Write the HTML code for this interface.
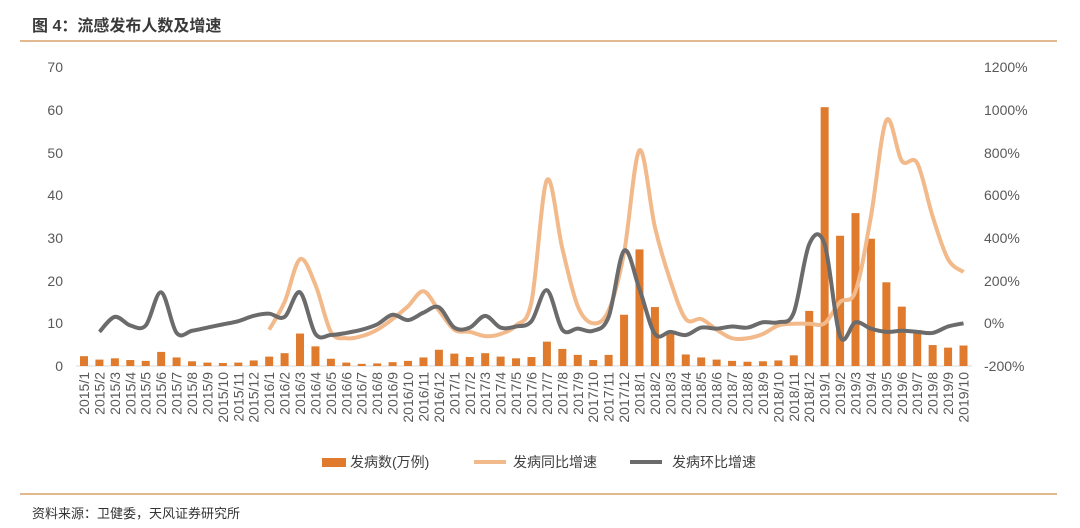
<!DOCTYPE html>
<html><head><meta charset="utf-8">
<style>
body{margin:0;background:#fff;}
svg{display:block;font-family:"Liberation Sans","Noto Sans CJK SC",sans-serif;}
</style></head><body>
<svg id="s" width="1080" height="528" viewBox="0 0 1080 528" xmlns="http://www.w3.org/2000/svg">
<text x="32" y="31" font-size="16" font-weight="bold" fill="#3a3a3a">图 4：流感发布人数及增速</text>
<line x1="20" y1="41" x2="1057" y2="41" stroke="#D9A06A" stroke-width="1.5"/>
<line x1="20" y1="494" x2="1057" y2="494" stroke="#D9A06A" stroke-width="1.5"/>
<text x="32" y="518" font-size="13" fill="#333">资料来源：卫健委，天风证券研究所</text>
<g font-size="14" fill="#595959" text-anchor="end">
<text x="63" y="371">0</text><text x="63" y="328">10</text><text x="63" y="286">20</text><text x="63" y="243">30</text><text x="63" y="200">40</text><text x="63" y="158">50</text><text x="63" y="115">60</text><text x="63" y="72">70</text>
</g>
<g font-size="14" fill="#595959" text-anchor="start">
<text x="984" y="371">-200%</text><text x="984" y="328">0%</text><text x="984" y="286">200%</text><text x="984" y="243">400%</text><text x="984" y="200">600%</text><text x="984" y="158">800%</text><text x="984" y="115">1000%</text><text x="984" y="72">1200%</text>
</g>
<line x1="76" y1="366" x2="972" y2="366" stroke="#d9d9d9" stroke-width="1"/>
<g id="bars" fill="#E07B2E"></g>
<g id="ticks" font-size="14" fill="#595959" text-anchor="end">
<text>2015/1</text><text>2015/2</text><text>2015/3</text><text>2015/4</text><text>2015/5</text><text>2015/6</text><text>2015/7</text><text>2015/8</text><text>2015/9</text><text>2015/10</text><text>2015/11</text><text>2015/12</text>
<text>2016/1</text><text>2016/2</text><text>2016/3</text><text>2016/4</text><text>2016/5</text><text>2016/6</text><text>2016/7</text><text>2016/8</text><text>2016/9</text><text>2016/10</text><text>2016/11</text><text>2016/12</text>
<text>2017/1</text><text>2017/2</text><text>2017/3</text><text>2017/4</text><text>2017/5</text><text>2017/6</text><text>2017/7</text><text>2017/8</text><text>2017/9</text><text>2017/10</text><text>2017/11</text><text>2017/12</text>
<text>2018/1</text><text>2018/2</text><text>2018/3</text><text>2018/4</text><text>2018/5</text><text>2018/6</text><text>2018/7</text><text>2018/8</text><text>2018/9</text><text>2018/10</text><text>2018/11</text><text>2018/12</text>
<text>2019/1</text><text>2019/2</text><text>2019/3</text><text>2019/4</text><text>2019/5</text><text>2019/6</text><text>2019/7</text><text>2019/8</text><text>2019/9</text><text>2019/10</text>
</g>
<path id="yoy" fill="none" stroke="#F2B98A" stroke-width="4" stroke-linejoin="round"/>
<path id="mom" fill="none" stroke="#6B6B6B" stroke-width="4" stroke-linejoin="round"/>
<g font-size="14" fill="#404040">
<rect x="322" y="458" width="24" height="9" fill="#E07B2E"/>
<text x="350" y="467">发病数(万例)</text>
<line x1="474" y1="462" x2="506" y2="462" stroke="#F2B98A" stroke-width="4"/>
<text x="513" y="467">发病同比增速</text>
<line x1="630" y1="462" x2="662" y2="462" stroke="#6B6B6B" stroke-width="4"/>
<text x="672" y="467">发病环比增速</text>
</g>
</svg>
<script>
var X=function(i){return 84+15.43*i;};
var bars=[2.3,1.5,1.8,1.4,1.2,3.3,2.0,1.1,0.8,0.7,0.8,1.3,2.2,3.0,7.6,4.6,1.7,0.8,0.5,0.6,0.9,1.2,2.0,3.8,2.9,2.1,3.0,2.2,1.8,2.1,5.7,4.0,2.6,1.4,2.6,12.0,27.3,13.8,7.5,2.7,2.0,1.5,1.2,1.0,1.1,1.3,2.5,12.9,60.6,30.5,35.8,29.8,19.6,13.9,8.4,4.9,4.3,4.8];
var ns="http://www.w3.org/2000/svg",g=document.getElementById('bars');
bars.forEach(function(v,i){var r=document.createElementNS(ns,'rect');var h=v*4.271;r.setAttribute('x',X(i)-4);r.setAttribute('y',366-h);r.setAttribute('width',8);r.setAttribute('height',h);g.appendChild(r);});
var t=document.getElementById('ticks').children;
for(var i=0;i<t.length;i++){var x=X(i)+5;t[i].setAttribute('transform','translate('+x+',372) rotate(-90)');}
var Y=function(p){return 323.3-p*0.2136;};
var yoy=[null,null,null,null,null,null,null,null,null,null,null,null,-30,100,300,180,-40,-70,-60,-30,20,80,150,60,-30,-40,-60,-50,-10,100,670,350,80,0,60,330,810,450,200,20,20,-30,-70,-70,-50,-10,-2,-2,0,100,150,500,950,760,750,500,300,240,240];
yoy=yoy.slice(0,58);
var mom=[null,-40,30,-10,-10,145,-45,-35,-20,-5,10,35,45,30,145,-50,-55,-45,-30,-5,40,15,50,75,-20,-20,35,-20,-15,10,155,-30,-25,-35,30,340,160,-50,-40,-55,-20,-25,-15,-20,5,5,50,370,370,-60,5,-25,-40,-35,-40,-45,-15,0];
function path(arr){var pts=[];arr.forEach(function(v,i){if(v!==null)pts.push([X(i),Y(v)]);});
var d='M'+pts[0][0]+','+pts[0][1];
for(var i=0;i<pts.length-1;i++){var p0=pts[i-1]||pts[i],p1=pts[i],p2=pts[i+1],p3=pts[i+2]||p2;
var c1=[p1[0]+(p2[0]-p0[0])/6,p1[1]+(p2[1]-p0[1])/6],c2=[p2[0]-(p3[0]-p1[0])/6,p2[1]-(p3[1]-p1[1])/6];
d+=' C'+c1+' '+c2+' '+p2;}return d;}
document.getElementById('yoy').setAttribute('d',path(yoy));
document.getElementById('mom').setAttribute('d',path(mom.slice(0,58)));
</script>
</body></html>
